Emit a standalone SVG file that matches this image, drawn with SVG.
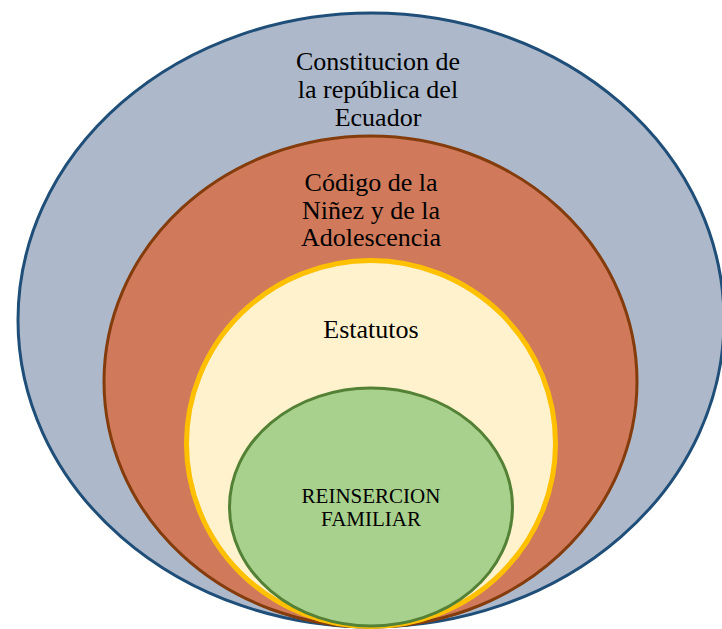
<svg xmlns="http://www.w3.org/2000/svg" width="722" height="629" viewBox="0 0 722 629">
<style>
.t{font-family:"Liberation Serif","Times New Roman",serif;fill:#000;text-anchor:middle}
.big{font-size:26px}
.small{font-size:21px}
</style>
<rect width="722" height="629" fill="#fff"/>
<g id="constitucion">
<ellipse cx="371" cy="320" rx="353" ry="307" fill="#ADB9CA" stroke="#1F4E79" stroke-width="3"/>
<text class="t big" x="378" y="70">Constitucion de</text>
<text class="t big" x="378" y="98">la república del</text>
<text class="t big" x="378" y="126">Ecuador</text>
</g>
<g id="codigo">
<ellipse cx="370.5" cy="381.5" rx="266.5" ry="245.5" fill="#D07A5B" stroke="#843C0C" stroke-width="3"/>
<text class="t big" x="371" y="190.5">Código de la</text>
<text class="t big" x="371" y="218.5">Niñez y de la</text>
<text class="t big" x="371" y="246">Adolescencia</text>
</g>
<g id="estatutos">
<ellipse cx="371" cy="443.5" rx="184.5" ry="183" fill="#FFF2CC" stroke="#FFC000" stroke-width="5"/>
<text class="t big" x="371" y="338">Estatutos</text>
</g>
<g id="reinsercion">
<ellipse cx="371" cy="507" rx="141.5" ry="119" fill="#A9D18E" stroke="#538135" stroke-width="3"/>
<text class="t small" x="371" y="503">REINSERCION</text>
<text class="t small" x="371" y="526">FAMILIAR</text>
</g>
<g id="connectors"></g>
</svg>
